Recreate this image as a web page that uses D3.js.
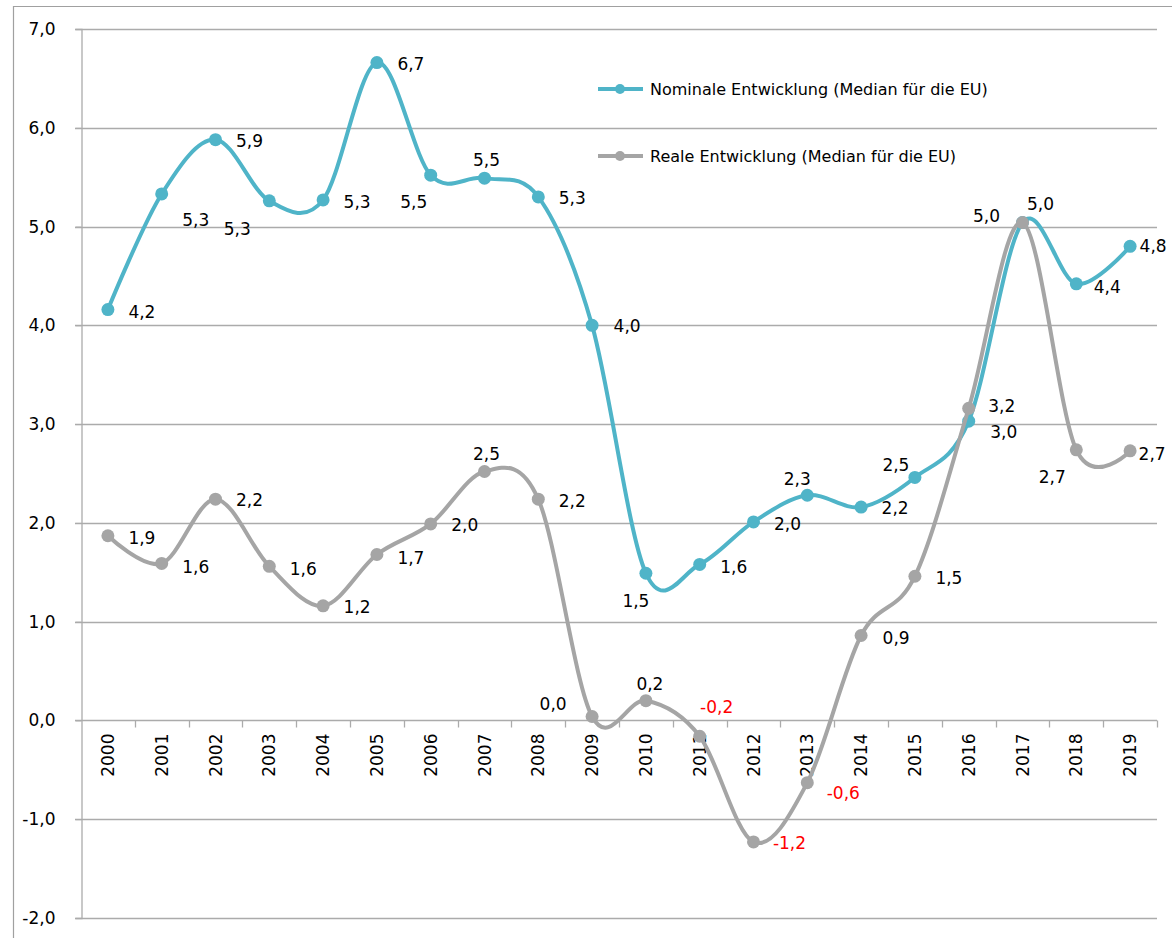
<!DOCTYPE html>
<html>
<head>
<meta charset="utf-8">
<script src="https://cdn.jsdelivr.net/npm/d3@7"></script>
<style>
   body { margin: 0; background: #fff; }
   text { font-family: "DejaVu Sans", sans-serif; fill: #000; }
</style>
</head>
<body>
<div id="chart"></div>
<script>

// CATEGORIES & SERIES
var years = ['2000', '2001', '2002', '2003', '2004', '2005', '2006', '2007', '2008', '2009',
             '2010', '2011', '2012', '2013', '2014', '2015', '2016', '2017', '2018', '2019'];
var nominal = [4.16, 5.33, 5.88, 5.26, 5.27, 6.66, 5.52, 5.49, 5.30, 4.00,
               1.49, 1.58, 2.01, 2.28, 2.16, 2.46, 3.03, 5.04, 4.42, 4.80];
var real = [1.87, 1.59, 2.24, 1.56, 1.16, 1.68, 1.99, 2.52, 2.24, 0.04,
            0.20, -0.16, -1.23, -0.63, 0.86, 1.46, 3.16, 5.04, 2.74, 2.73];
var yTicks = [-2, -1, 0, 1, 2, 3, 4, 5, 6, 7];
var legendNames = ['Nominale Entwicklung (Median für die EU)', 'Reale Entwicklung (Median für die EU)'];

// DATA LABEL PLACEMENT (PIXEL OFFSETS FROM EACH POINT)
var nominalLabelPos = [[34, 2], [34, 26], [34, 1], [-32, 28], [34, 2], [34, 1], [-17, 27], [2, -18], [34, 1], [35, 1],
                       [-10, 28], [34, 3], [34, 2], [-10, -16], [34, 1], [-19, -13], [35, 11], [18, -19], [31, 3], [23, 0]];
var realLabelPos = [[34, 2], [34, 3], [34, 1], [34, 3], [34, 1], [34, 3], [34, 1], [2, -18], [34, 2], [-39, -13],
                    [4, -17], [17, -29], [36, 1], [36, 10], [35, 2], [34, 2], [33, -2], [-36, -7], [-24, 27], [22, 3]];

// SETTINGS
var settings = {
   width: 1172,
   height: 938,
   left: 81,
   right: 1157,
   top: 29,
   bottom: 918,
   grid: '#ababab',
   teal: '#4fb4c8',
   gray: '#a5a5a5',
   negative: '#ff0000',
   stroke: 4,
   radius: 6.5
}

// COMMA DECIMAL FORMAT
var locale = d3.formatLocale({ decimal: ',', thousands: '.', grouping: [3], currency: ['', ''], minus: '-' });
var fmt = locale.format('.1f');

// SCALES
var yScale = d3.scaleLinear()
   .domain([-2, 7])
   .range([settings.bottom, settings.top])

var xScale = d3.scaleBand()
   .domain(years)
   .range([settings.left, settings.right])
   .padding(0)

function cx(i) { return xScale(years[i]) + xScale.bandwidth() / 2; }

// CANVAS
var canvas = d3.select('#chart').append('svg')
   .attr('width', settings.width)
   .attr('height', settings.height)

canvas.append('rect')
   .attr('width', settings.width)
   .attr('height', settings.height)
   .attr('fill', '#fff')

// OUTER CHART FRAME
canvas.append('path')
   .attr('d', 'M13.5,' + settings.height + 'V6.5H' + settings.width)
   .attr('fill', 'none')
   .attr('stroke', '#a0a0a0')
   .attr('stroke-width', 1.2)

// GRIDLINES
canvas.append('g').selectAll('line')
   .data(yTicks)
      .enter().append('line')
         .attr('x1', settings.left - 6)
         .attr('x2', settings.right)
         .attr('y1', (d) => { return Math.round(yScale(d)) + 0.5 })
         .attr('y2', (d) => { return Math.round(yScale(d)) + 0.5 })
         .attr('stroke', settings.grid)
         .attr('stroke-width', 1.3)

// Y AXIS
var yAxis = canvas.append('g')
   .attr('transform', 'translate(' + (settings.left + 0.5) + ',0)')
   .call(d3.axisLeft(yScale).tickValues(yTicks).tickSize(6).tickPadding(20).tickFormat(fmt))

yAxis.select('.domain').attr('stroke', settings.grid).attr('stroke-width', 1.3)
yAxis.selectAll('.tick line').attr('stroke', settings.grid)
yAxis.selectAll('.tick text')
   .style('font-size', '17px')
   .style('font-family', '"DejaVu Sans", sans-serif')
   .attr('fill', (d) => { return d < 0 ? settings.negative : '#000' })

// X AXIS TICKS ON ZERO LINE (BAND BOUNDARIES)
var zeroY = Math.round(yScale(0)) + 0.5;
canvas.append('g').selectAll('line')
   .data(years)
      .enter().append('line')
         .attr('x1', (d) => { return Math.round(xScale(d) + xScale.bandwidth()) + 0.5 })
         .attr('x2', (d) => { return Math.round(xScale(d) + xScale.bandwidth()) + 0.5 })
         .attr('y1', zeroY)
         .attr('y2', zeroY + 7)
         .attr('stroke', settings.grid)
         .attr('stroke-width', 1.3)

// YEAR LABELS (ROTATED)
canvas.append('g').selectAll('text')
   .data(years)
      .enter().append('text')
         .attr('transform', (d, i) => { return 'translate(' + cx(i) + ',' + (zeroY + 13) + ') rotate(-90)' })
         .attr('text-anchor', 'end')
         .attr('dy', '0.36em')
         .style('font-size', '17px')
         .text((d) => { return d })

// LINE GENERATOR (EXCEL-LIKE SMOOTHING)
var pathify = d3.line()
   .x((d, i) => { return cx(i) })
   .y((d) => { return yScale(d) })
   .curve(d3.curveCardinal.tension(0))

// DRAW ONE SERIES WITH MARKERS AND LABELS
function series(values, color, labelPos) {

   var g = canvas.append('g')

   g.append('path')
      .attr('fill', 'none')
      .attr('stroke', color)
      .attr('stroke-width', settings.stroke)
      .attr('stroke-linejoin', 'round')
      .attr('d', pathify(values))

   g.selectAll('circle')
      .data(values)
         .enter().append('circle')
            .attr('cx', (d, i) => { return cx(i) })
            .attr('cy', (d) => { return yScale(d) })
            .attr('r', settings.radius)
            .attr('fill', color)

   g.selectAll('text')
      .data(values)
         .enter().append('text')
            .attr('x', (d, i) => { return cx(i) + labelPos[i][0] })
            .attr('y', (d, i) => { return yScale(d) + labelPos[i][1] })
            .attr('text-anchor', 'middle')
            .attr('dy', '0.36em')
            .style('font-size', '17px')
            .style('fill', (d) => { return fmt(d).charAt(0) === '-' ? settings.negative : '#000' })
            .text((d) => { return fmt(d) })
}

series(nominal, settings.teal, nominalLabelPos)
series(real, settings.gray, realLabelPos)

// LEGEND
var legend = canvas.append('g').selectAll('g')
   .data(legendNames)
      .enter().append('g')
         .attr('transform', (d, i) => { return 'translate(598,' + (i === 0 ? 89 : 156) + ')' })

legend.append('line')
   .attr('x1', 0)
   .attr('x2', 45)
   .attr('stroke', (d, i) => { return i === 0 ? settings.teal : settings.gray })
   .attr('stroke-width', settings.stroke)

legend.append('circle')
   .attr('cx', 22)
   .attr('r', 5)
   .attr('fill', (d, i) => { return i === 0 ? settings.teal : settings.gray })

legend.append('text')
   .attr('x', 52)
   .attr('dy', '0.36em')
   .style('font-size', '16px')
   .text((d) => { return d })

</script>
</body>
</html>
